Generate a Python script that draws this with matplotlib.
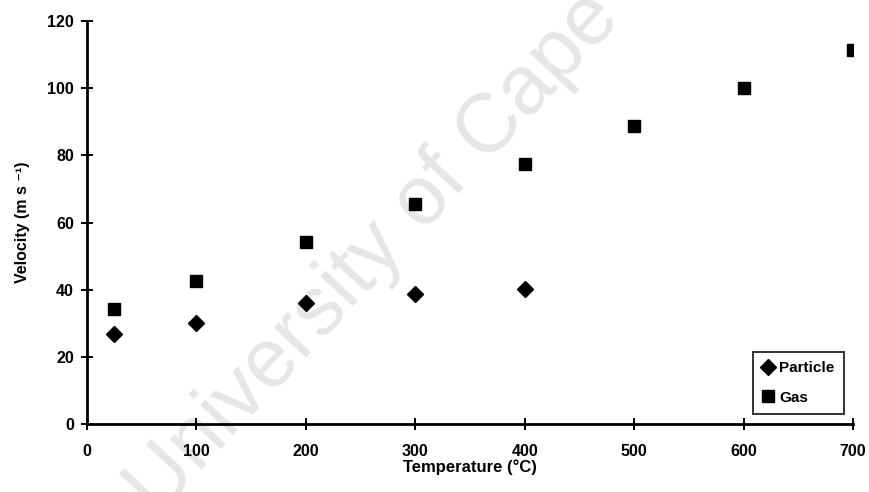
import matplotlib
matplotlib.use("Agg")
import matplotlib.pyplot as plt

# Measured velocities versus temperature
temp_particle = [25, 100, 200, 300, 400]
vel_particle = [26.8, 30.0, 36.0, 38.7, 40.2]
temp_gas = [25, 100, 200, 300, 400, 500, 600, 700]
vel_gas = [34.2, 42.6, 54.3, 65.6, 77.4, 88.8, 100.2, 111.5]

x_ticks = [0, 100, 200, 300, 400, 500, 600, 700]
y_ticks = [0, 20, 40, 60, 80, 100, 120]

plt.rcParams['font.family'] = ['Liberation Sans', 'DejaVu Sans']

fig = plt.figure(figsize=(8.69, 4.92), dpi=100)
fig.patch.set_facecolor('white')

# Faint diagonal watermark behind the plot
fig.text(0.43, 0.485, "University of Cape", fontsize=60, color='#e6e6e6',
         rotation=47, ha='center', va='center', rotation_mode='anchor',
         zorder=-1)

ax = fig.add_axes([0.1001, 0.1382, 0.8815, 0.8191])
ax.patch.set_alpha(0)

ax.plot(temp_particle, vel_particle, linestyle='none', marker='D',
        markersize=8.5, color='black', label='Particle')
ax.plot(temp_gas, vel_gas, linestyle='none', marker='s',
        markersize=9, color='black', label='Gas')

ax.set_xlim(0, 700)
ax.set_ylim(0, 120)
ax.set_xticks(x_ticks)
ax.set_yticks(y_ticks)

for side in ('top', 'right'):
    ax.spines[side].set_visible(False)
for side in ('left', 'bottom'):
    ax.spines[side].set_linewidth(2.0)

ax.tick_params(direction='inout', length=9, width=1.4, labelsize=11.5)
ax.tick_params(axis='x', pad=10)
ax.tick_params(axis='y', pad=5)
for lbl in ax.get_xticklabels() + ax.get_yticklabels():
    lbl.set_fontweight('bold')

ax.set_xlabel("Temperature (°C)", fontsize=12, fontweight='bold', labelpad=0)
ax.set_ylabel("Velocity (m s \u207b\u00b9)", fontsize=11.5, fontweight='bold',
              labelpad=12)

leg = ax.legend(loc='lower right', bbox_to_anchor=(0.988, 0.025),
                borderaxespad=0, frameon=True, fancybox=False,
                edgecolor='black', prop={'weight': 'bold', 'size': 11},
                handlelength=0.8, handletextpad=0.35, borderpad=0.6,
                labelspacing=1.0)
leg.get_frame().set_linewidth(1.4)

fig.savefig("out.png", dpi=100)
